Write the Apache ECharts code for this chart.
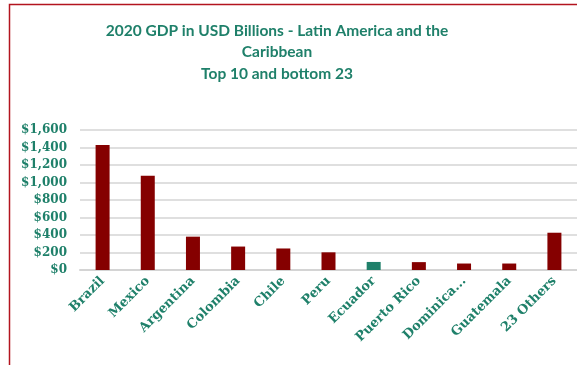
<!DOCTYPE html>
<html>
<head>
<meta charset="utf-8">
<script src="https://cdn.jsdelivr.net/npm/echarts@6/dist/echarts.min.js"></script>
<style>
  html, body { margin: 0; padding: 0; background: #fff; }
  #chart { width: 577px; height: 365px; }
</style>
</head>
<body>
<div id="chart"></div>
<script>
// 2020 GDP, USD billions
const categories = ['Brazil', 'Mexico', 'Argentina', 'Colombia', 'Chile', 'Peru', 'Ecuador', 'Puerto Rico', 'Dominica...', 'Guatemala', '23 Others'];
const gdpValues = [1430, 1078, 381, 268, 246, 202, 92, 90, 74, 74, 426];
const highlighted = 'Ecuador';
const yTicks = [0, 200, 400, 600, 800, 1000, 1200, 1400, 1600];

const TEAL = '#1f806a';
const RED = '#850000';

const chart = echarts.init(document.getElementById('chart'), null, { renderer: 'canvas' });

chart.setOption({
  animation: false,
  backgroundColor: '#ffffff',
  title: {
    text: '2020 GDP in USD Billions - Latin America and the\nCaribbean\nTop 10 and bottom 23',
    left: 272,
    textAlign: 'center',
    top: 15,
    textStyle: {
      fontFamily: 'Lato',
      fontWeight: 'bold',
      fontSize: 15.5,
      lineHeight: 21.5,
      color: TEAL
    }
  },
  graphic: [{
    type: 'rect',
    shape: { x: 9.5, y: 4.5, width: 700, height: 500 },
    style: { fill: 'none', stroke: '#b3141f', lineWidth: 1.5 },
    silent: true
  }],
  grid: { left: 80, top: 130, width: 501, height: 140, containLabel: false },
  xAxis: {
    type: 'category',
    data: categories,
    axisLine: { show: true, lineStyle: { color: '#d4d4d4', width: 2 } },
    axisTick: { show: false },
    axisLabel: {
      interval: 0,
      rotate: 45,
      margin: 9,
      fontFamily: 'DejaVu Serif',
      fontWeight: 'bold',
      fontSize: 13,
      color: TEAL
    }
  },
  yAxis: {
    type: 'value',
    min: yTicks[0],
    max: yTicks[yTicks.length - 1],
    interval: yTicks[1] - yTicks[0],
    axisLine: { show: false },
    axisTick: { show: false },
    splitLine: { lineStyle: { color: '#d4d4d4', width: 1.5 } },
    axisLabel: {
      margin: 13,
      fontFamily: 'DejaVu Serif',
      fontWeight: 'bold',
      fontSize: 12,
      color: TEAL,
      formatter: v => '$' + v.toLocaleString('en-US')
    }
  },
  series: [{
    type: 'bar',
    barWidth: 14,
    data: categories.map((c, i) => ({
      value: gdpValues[i],
      itemStyle: { color: c === highlighted ? TEAL : RED }
    }))
  }]
});
</script>
</body>
</html>
